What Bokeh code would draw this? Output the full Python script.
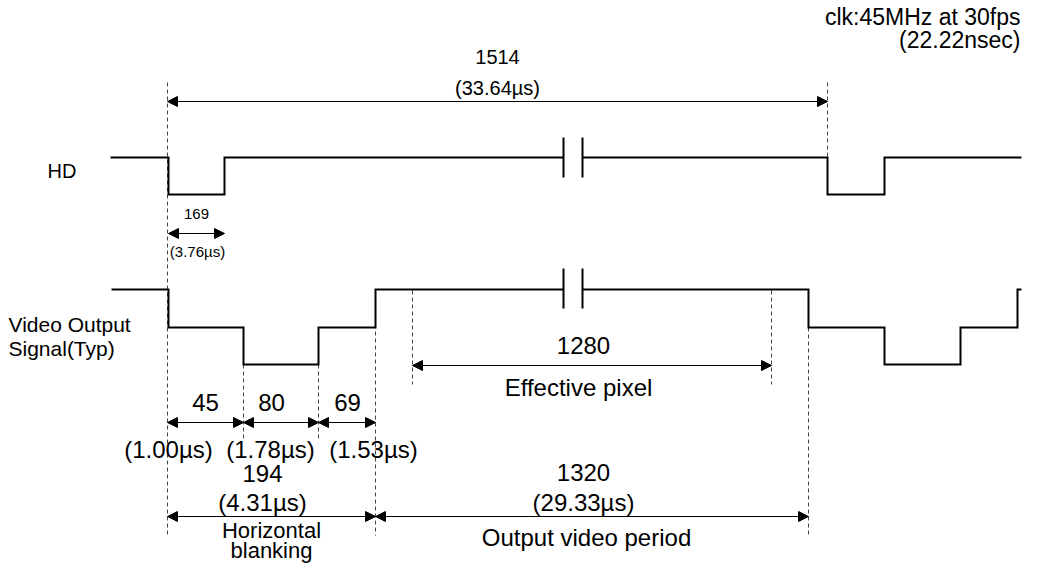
from bokeh.plotting import figure
from bokeh.models import Range1d, Arrow, NormalHead, ColumnDataSource
from bokeh.core.properties import value
from bokeh.embed import file_html
from bokeh.resources import INLINE

# ---- schematic data (diagram units = reference pixels) ----
# HD waveform (two segments separated by a break)
hd_seg1_x = [110, 168, 168, 224, 224, 563]
hd_seg1_y = [157, 157, 194, 194, 157, 157]
hd_seg2_x = [582, 827, 827, 884, 884, 1021]
hd_seg2_y = [157, 157, 194, 194, 157, 157]

# Video output waveform
vid_seg1_x = [111, 168, 168, 243, 243, 318, 318, 375, 375, 563]
vid_seg1_y = [289, 289, 327, 327, 364, 364, 327, 327, 289, 289]
vid_seg2_x = [582, 808, 808, 884, 884, 960, 960, 1017, 1017, 1021]
vid_seg2_y = [289, 289, 327, 327, 364, 364, 327, 327, 289, 289]

# break marks (x, y0, y1)
break_x = [563, 582, 563, 582]
break_y0 = [137, 137, 268, 268]
break_y1 = [177, 177, 308, 308]

# dashed reference lines (x, y0, y1)
dash_x = [167, 827, 243, 318, 375, 412, 771, 808]
dash_y0 = [82, 82, 364, 364, 289, 290, 290, 327]
dash_y1 = [535, 157, 438, 438, 535, 384, 384, 535]

# dimension arrows
arr_x0 = [167, 168, 167, 243, 318, 412, 167, 375]
arr_x1 = [827, 224, 243, 318, 375, 771, 375, 808]
arr_y = [101, 233, 422, 422, 422, 365, 516, 516]

# labels
counts = ["1514", "169", "45", "80", "69", "1280", "194", "1320"]
durations = ["(33.64µs)", "(3.76µs)", "(1.00µs)", "(1.78µs)", "(1.53µs)", "", "(4.31µs)", "(29.33µs)"]

FONT = value("Liberation Sans")

p = figure(width=1022, height=568, output_backend="svg", toolbar_location=None,
           x_range=Range1d(0, 1022), y_range=Range1d(568, 0),
           min_border=0, min_border_left=0, min_border_right=0,
           min_border_top=0, min_border_bottom=0)
p.axis.visible = False
p.grid.visible = False
p.outline_line_color = None
p.background_fill_color = "white"

# dashed lines
p.segment(x0=dash_x, y0=dash_y0, x1=dash_x, y1=dash_y1,
          line_color="#444444", line_width=1, line_dash="4 3")

# waveforms
for xs, ys in [(hd_seg1_x, hd_seg1_y), (hd_seg2_x, hd_seg2_y),
               (vid_seg1_x, vid_seg1_y), (vid_seg2_x, vid_seg2_y)]:
    p.line(xs, ys, line_color="black", line_width=2, line_join="miter")

p.segment(x0=break_x, y0=break_y0, x1=break_x, y1=break_y1,
          line_color="black", line_width=2)

# arrows
src = ColumnDataSource(dict(x0=arr_x0, x1=arr_x1, y=arr_y))
p.add_layout(Arrow(x_start="x0", y_start="y", x_end="x1", y_end="y", source=src,
                   line_color="black", line_width=1,
                   start=NormalHead(size=10, fill_color="black", line_color="black", line_width=1),
                   end=NormalHead(size=10, fill_color="black", line_color="black", line_width=1)))

def txt(x, y, s, size, align="center", baseline="middle"):
    p.text(x=[x], y=[y], text=[s], text_font=FONT, text_font_size=f"{size}px",
           text_align=align, text_baseline=baseline, text_color="black")

# top-right clock note
txt(1020, 16, "clk:45MHz at 30fps", 23, "right")
txt(1020, 39, "(22.22nsec)", 23, "right")

# total period
txt(497, 56, counts[0], 20)
txt(497, 87, durations[0], 20)

# signal names
txt(47, 170, "HD", 20, "left")
txt(8, 324, "Video Output", 21, "left")
txt(8, 348, "Signal(Typ)", 21, "left")

# HD pulse
txt(196, 213, counts[1], 15)
txt(197, 251, durations[1], 15)

# blanking sub-parts
txt(205, 402, counts[2], 24)
txt(271, 402, counts[3], 24)
txt(347, 402, counts[4], 24)
txt(168, 449, durations[2], 24)
txt(270, 449, durations[3], 24)
txt(373, 449, durations[4], 24)

# effective pixel
txt(583, 345, counts[5], 24)
txt(578, 387, "Effective pixel", 24)

# horizontal blanking total
txt(262, 473, counts[6], 24)
txt(262, 502, durations[6], 24)
txt(271, 530, "Horizontal", 22)
txt(271, 550, "blanking", 22)

# output video period
txt(583, 472, counts[7], 24)
txt(583, 502, durations[7], 24)
txt(586, 537, "Output video period", 24)

open("out.html", "w").write(file_html(p, INLINE))
